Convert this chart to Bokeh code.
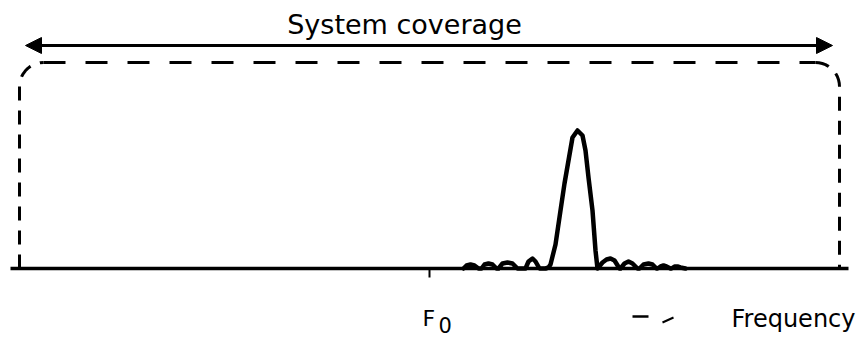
import numpy as np
from bokeh.plotting import figure
from bokeh.models import Range1d, Arrow, NormalHead
from bokeh.core.properties import value
from bokeh.embed import file_html
from bokeh.resources import INLINE

# ---- data (x in frequency units, y in amplitude units above the baseline) ----
axis_start, axis_end = 10, 848
f0 = 429
coverage_start, coverage_end = 19, 839
coverage_level = 206
corner_radius = 24
arrow_level = 223
arrow_start, arrow_end = 25, 832

pulse_freq = [463, 466, 470, 474, 478,
              481, 484, 488, 492, 496,
              498, 502, 507, 512, 517,
              525, 528, 532, 535, 539,
              545, 548, 550, 552, 555, 560, 564, 568, 572, 577, 582, 585, 588, 592, 595, 597,
              602, 606, 610, 614, 619,
              620, 624, 628, 632, 637,
              639, 643, 648, 652, 656,
              657, 660, 663, 666, 670,
              671, 674, 677, 680, 685]
pulse_amp = [0, 3, 4, 3, 0,
             0, 4, 5, 4, 0,
             0, 5, 6, 5, 0,
             0, 7, 10, 7, 0,
             0, 1, 4, 12, 24, 58, 85, 108, 131, 138, 133, 118, 91, 58, 18, 0,
             6, 9, 10, 8, 0,
             0, 5, 7, 5, 0,
             0, 4, 5, 4, 0,
             0, 2, 3, 2, 0,
             0, 2, 2, 1, 0]

title_text = "System coverage"
f0_label = ["F", "0"]
freq_label = "Frequency"

# ---- figure ----
W, H = 868, 339
p = figure(width=W, height=H, output_backend="svg", toolbar_location=None,
           x_range=Range1d(0, W), y_range=Range1d(268 - H, 268),
           min_border=0, outline_line_color=None, background_fill_color="white",
           border_fill_color="white")
p.axis.visible = False
p.grid.visible = False

# baseline
p.line([axis_start, axis_end], [0, 0], line_color="black", line_width=3.5)
# F0 tick
p.line([f0, f0], [0, -9], line_color="black", line_width=2)

# dashed coverage outline (rounded corners)
t = np.linspace(np.pi, np.pi / 2, 12)
lx = list(coverage_start + corner_radius + corner_radius * np.cos(t))
ly = list(coverage_level - corner_radius + corner_radius * np.sin(t))
p.line([coverage_start] + lx, [0] + ly, line_color="black", line_width=3, line_dash="14 10")
t2 = np.linspace(np.pi / 2, 0, 12)
rx = list(coverage_end - corner_radius + corner_radius * np.cos(t2))
ry = list(coverage_level - corner_radius + corner_radius * np.sin(t2))
p.line(rx + [coverage_end], ry + [0], line_color="black", line_width=3, line_dash="14 10")
p.line([coverage_start + corner_radius, coverage_end - corner_radius],
       [coverage_level, coverage_level], line_color="black", line_width=3, line_dash="22 20")

# double arrow
p.add_layout(Arrow(start=NormalHead(size=16, fill_color="black", line_color="black"),
                   end=NormalHead(size=16, fill_color="black", line_color="black"),
                   x_start=arrow_start, y_start=arrow_level, x_end=arrow_end, y_end=arrow_level,
                   line_color="black", line_width=3))

# pulse
p.line(pulse_freq, pulse_amp, line_color="black", line_width=4.5, line_join="round", line_cap="round")

# small scan mark near Frequency label
p.line([632, 648], [-48, -48], line_color="black", line_width=2.5)
p.line([662, 673], [-54, -49], line_color="black", line_width=2)

font = value("DejaVu Sans")
p.text([404], [244], text=[title_text], text_font=font, text_font_size="27px",
       text_align="center", text_baseline="alphabetic", text_color="black")
p.text([422], [-50], text=[f0_label[0]], text_font=font, text_font_size="22px",
       text_align="left", text_baseline="alphabetic", text_color="black")
p.text([438], [-56], text=[f0_label[1]], text_font=font, text_font_size="21px",
       text_align="left", text_baseline="alphabetic", text_color="black")
p.text([793], [-50], text=[freq_label], text_font=font, text_font_size="24px",
       text_align="center", text_baseline="alphabetic", text_color="black")

open("out.html", "w").write(file_html(p, INLINE))
